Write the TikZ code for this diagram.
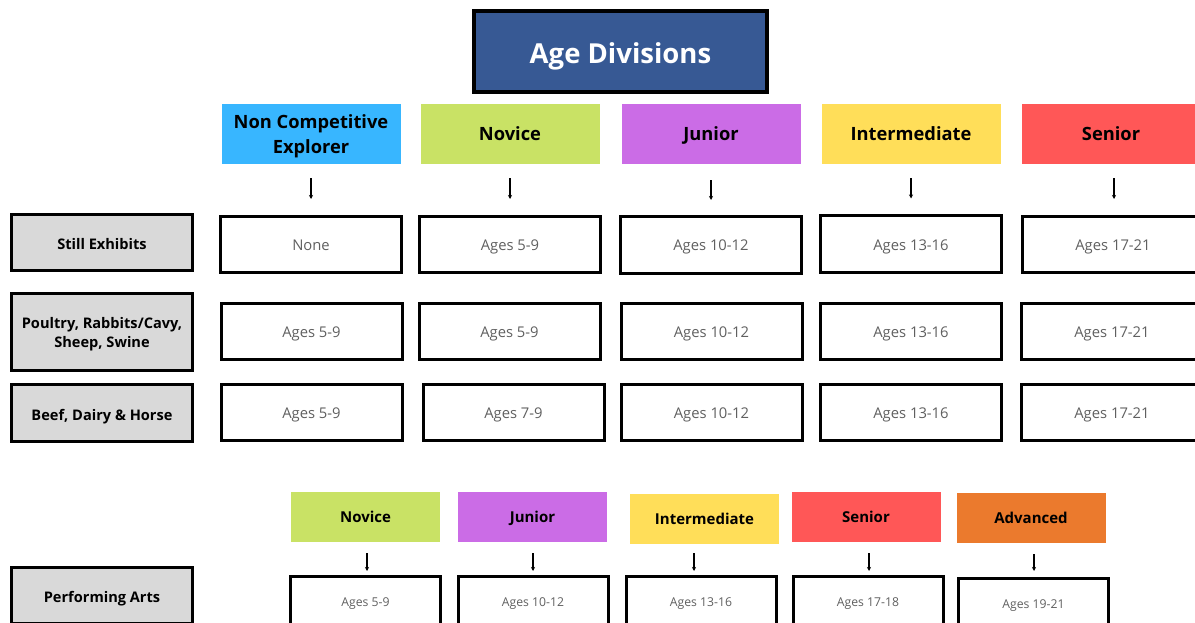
\documentclass[tikz,border=0pt]{standalone}
\usepackage{fontspec}
\setmainfont{Open Sans}
\usetikzlibrary{arrows.meta}

\definecolor{titleblue}{RGB}{55,89,148}
\definecolor{skyblue}{RGB}{56,182,255}
\definecolor{limegreen}{RGB}{201,226,101}
\definecolor{violet}{RGB}{203,108,230}
\definecolor{gold}{RGB}{255,222,89}
\definecolor{coral}{RGB}{255,87,87}
\definecolor{deeporange}{RGB}{235,122,45}
\definecolor{labelgray}{RGB}{217,217,217}
\definecolor{agegray}{RGB}{96,96,96}

\begin{document}
\begin{tikzpicture}[x=1pt,y=-1pt,
	title/.style={draw=black,fill=titleblue,line width=3.5pt,text=white,minimum width=293,minimum height=81,text height=25pt,text depth=0pt,font=\fontsize{27.5}{32}\selectfont\bfseries},
	head/.style={minimum width=179,minimum height=60,inner sep=0pt,align=center,text depth=0pt,font=\fontsize{18.3}{25}\selectfont\bfseries},
	smallhead/.style={minimum width=149,minimum height=50,inner sep=0pt,text height=12pt,text depth=1pt,font=\fontsize{15}{18}\selectfont\bfseries},
	agebox/.style={draw=black,fill=white,line width=3pt,text=agegray,minimum width=181,minimum height=56,text height=13pt,text depth=1pt,font=\fontsize{14.8}{18}\selectfont},
	smallage/.style={draw=black,fill=white,line width=3pt,text=agegray,minimum width=150,minimum height=55,text height=6pt,text depth=2pt,font=\fontsize{12.2}{15}\selectfont},
	rowlabel/.style={draw=black,fill=labelgray,line width=3pt,minimum width=181,minimum height=56,align=center,text height=14pt,text depth=0pt,font=\fontsize{14.6}{19}\selectfont\bfseries},
	arr/.style={-{Stealth[length=4pt,width=4pt]},line width=1.2pt}]
	\useasboundingbox (0,0) rectangle (1195,623);
	\clip (0,0) rectangle (1195,623);
	\fill[white] (0,0) rectangle (1195,623);
	
	% Title
	\node[title] (agediv) at (620.5,51.5) {Age Divisions};
	
	% Division headers
	\node[head,fill=skyblue] (nc) at (311,134) {Non Competitive\\Explorer};
	\node[head,fill=limegreen] (nov) at (510,134) {Novice};
	\node[head,fill=violet] (jun) at (711,134) {Junior};
	\node[head,fill=gold] (int) at (911,134) {Intermediate};
	\node[head,fill=coral] (sen) at (1111,134) {Senior};
	
	% Still exhibits row
	\node[rowlabel] (still) at (102,242.5) {Still Exhibits};
	\node[agebox] (stnc) at (311,244.5) {None};
	\node[agebox] (stnov) at (510,244.5) {Ages 5-9};
	\node[agebox,minimum height=57] (stjun) at (711,245) {Ages 10-12};
	\node[agebox] (stint) at (911,244) {Ages 13-16};
	\node[agebox] (stsen) at (1113,244.5) {Ages 17-21};
	
	% Arrows to the first row
	\draw[arr] ([yshift=-14pt]nc.south) -- ([yshift=16pt]stnc.north);
	\draw[arr] ([yshift=-14pt]nov.south) -- ([yshift=16pt]stnov.north);
	\draw[arr] ([yshift=-16pt]jun.south) -- ([yshift=15pt]stjun.north);
	\draw[arr] ([yshift=-14pt]int.south) -- ([yshift=16pt]stint.north);
	\draw[arr] ([xshift=3pt,yshift=-14pt]sen.south) -- ([xshift=1pt,yshift=16pt]stsen.north);
	
	% Poultry row
	\node[rowlabel,minimum height=77,text height=,text depth=-1pt] (poultry) at (102,332) {Poultry, Rabbits/Cavy,\\Sheep, Swine};
	\node[agebox] (pnc) at (311.5,331.5) {Ages 5-9};
	\node[agebox] (pnov) at (509.5,331.5) {Ages 5-9};
	\node[agebox] (pjun) at (711.5,331.5) {Ages 10-12};
	\node[agebox] (pint) at (911,331.5) {Ages 13-16};
	\node[agebox] (psen) at (1112,331.5) {Ages 17-21};
	
	% Beef row
	\node[rowlabel,minimum height=57] (beef) at (102,413) {Beef, Dairy \& Horse};
	\node[agebox] (bnc) at (311.5,412.5) {Ages 5-9};
	\node[agebox] (bnov) at (513.5,412.5) {Ages 7-9};
	\node[agebox] (bjun) at (711.5,412.5) {Ages 10-12};
	\node[agebox] (bint) at (911,412.5) {Ages 13-16};
	\node[agebox] (bsen) at (1112,412.5) {Ages 17-21};
	
	% Performing arts headers
	\node[smallhead,fill=limegreen] (anov) at (365.5,517) {Novice};
	\node[smallhead,fill=violet] (ajun) at (532.5,517) {Junior};
	\node[smallhead,fill=gold] (aint) at (704.5,519) {Intermediate};
	\node[smallhead,fill=coral] (asen) at (866,517) {Senior};
	\node[smallhead,fill=deeporange] (aadv) at (1031,518) {Advanced};
	
	% Performing arts row
	\node[rowlabel] (perf) at (102,595.5) {Performing Arts};
	\node[smallage] (arnov) at (365.5,604) {Ages 5-9};
	\node[smallage] (arjun) at (533,604) {Ages 10-12};
	\node[smallage] (arint) at (701,604) {Ages 13-16};
	\node[smallage] (arsen) at (868,604) {Ages 17-18};
	\node[smallage] (aradv) at (1033.5,606) {Ages 19-21};
	
	% Arrows to the performing arts row
	\draw[arr] ([xshift=1.5pt,yshift=-11pt]anov.south) -- ([xshift=1.5pt,yshift=4pt]arnov.north);
	\draw[arr] ([xshift=0.5pt,yshift=-11pt]ajun.south) -- ([yshift=4pt]arjun.north);
	\draw[arr] ([xshift=-10.5pt,yshift=-9pt]aint.south) -- ([xshift=-7pt,yshift=4pt]arint.north);
	\draw[arr] ([xshift=3pt,yshift=-11pt]asen.south) -- ([xshift=1pt,yshift=4pt]arsen.north);
	\draw[arr] ([xshift=3pt,yshift=-11pt]aadv.south) -- ([xshift=0.5pt,yshift=6pt]aradv.north);
\end{tikzpicture}
\end{document}
